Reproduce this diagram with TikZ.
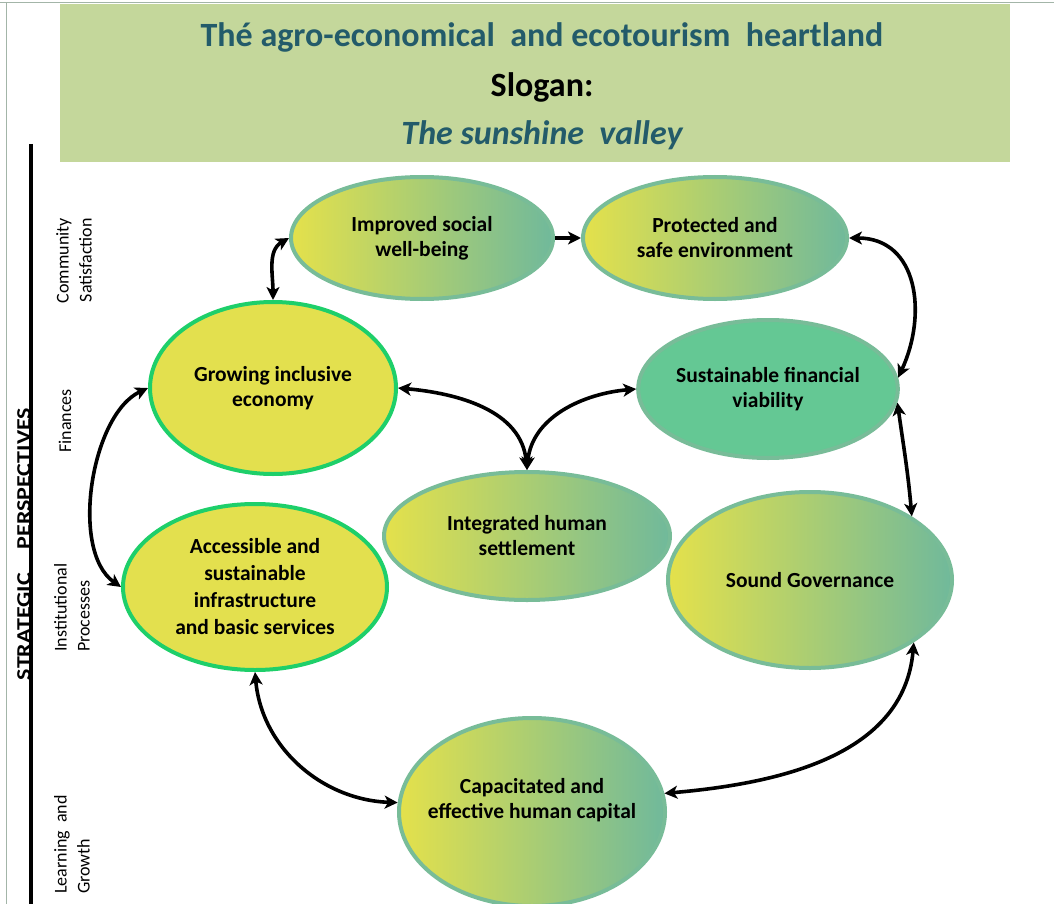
\documentclass[tikz,border=0pt]{standalone}
\usepackage{fontspec}
\setmainfont{Carlito}
\usetikzlibrary{shapes.geometric,arrows.meta}
\definecolor{bandgreen}{HTML}{C4D79B}
\definecolor{titleteal}{HTML}{235B6A}
\definecolor{gyel}{HTML}{E4E14B}
\definecolor{ggrn}{HTML}{70B99B}
\definecolor{gbord}{HTML}{78BC98}
\definecolor{brgreen}{HTML}{1ECF6A}
\definecolor{yelfill}{HTML}{E3E04E}
\definecolor{susfill}{HTML}{64C894}
\definecolor{pageline}{HTML}{A3B5A8}
\begin{document}
\begin{tikzpicture}[x=1pt,y=1pt,
  ell/.style={ellipse, inner sep=0pt, line width=4pt, align=center,
    font=\fontsize{21.5}{25}\selectfont\bfseries},
  grad/.style={ell, draw=gbord, left color=gyel, right color=ggrn},
  yel/.style={ell, draw=brgreen, fill=yelfill},
  susst/.style={ell, draw=gbord, fill=susfill},
  conn/.style={line width=3.6pt,
    {Stealth[length=13pt,width=13pt,inset=3.5pt]}-{Stealth[length=13pt,width=13pt,inset=3.5pt]}},
  oneway/.style={line width=3.6pt, -{Stealth[length=13pt,width=13pt,inset=3.5pt]}},
  persp/.style={rotate=90, inner sep=0pt, font=\fontsize{18}{23}\selectfont},
  bandtext/.style={inner sep=0pt, font=\fontsize{34}{40}\selectfont\bfseries}
]
\useasboundingbox (0,0) rectangle (1054,-904);
% page lines
\draw[pageline, line width=0.8pt] (0,-2.5) -- (1054,-2.5);
\draw[pageline, line width=0.8pt] (6,-2.5) -- (6,-904);
% band
\fill[bandgreen] (60,-4) rectangle (1010,-162);
\node[bandtext, text=titleteal] (title) at (542,-37) {Thé agro-economical\ \ and ecotourism\ \ heartland};
\node[bandtext, text=black] (slogan) at (542,-87) {Slogan:};
\node[bandtext, text=titleteal, font=\fontsize{34}{40}\selectfont\bfseries\itshape] (valley) at (542,-135) {The sunshine\ \ valley};
% left axis
\draw[line width=4.5pt] (31,-144) -- (31,-904);
\node[rotate=90, inner sep=0pt, font=\fontsize{20}{24}\selectfont\bfseries] (strat) at (25,-544)
  {\scalebox{1.2}[1]{\underline{STRATEGIC\hspace{20pt}PERSPECTIVES}}};
\node[persp, align=right, anchor=east] (ps1) at (74,-218) {Community\\Satisfaction};
\node[persp] (ps2) at (65,-421) {Finances};
\node[persp, align=left, anchor=west] (ps3) at (72,-652) {Institutional\\Processes};
\node[persp, align=left, anchor=west] (ps4) at (72,-894) {Learning\ \ and\\Growth};
% ellipses
\node[grad, minimum width=262pt, minimum height=122pt] (imp) at (422,-238) {Improved social\\well-being};
\node[grad, minimum width=264pt, minimum height=122pt] (prot) at (715,-238) {Protected and\\safe environment};
\node[yel, minimum width=246pt, minimum height=172pt] (grow) at (273,-388) {Growing inclusive\\economy};
\node[susst, minimum width=250pt, minimum height=138pt] (sust) at (768,-389) {Sustainable financial\\viability};
\node[grad, minimum width=286pt, minimum height=128pt] (integ) at (527,-536) {Integrated human\\settlement};
\node[yel, minimum width=264pt, minimum height=166pt, font=\fontsize{21.5}{27}\selectfont\bfseries] (acc) at (255,-587)
  {Accessible and\\sustainable\\infrastructure\\and basic services};
\node[grad, minimum width=284pt, minimum height=176pt] (gov) at (810,-580) {Sound Governance};
\node[grad, minimum width=266pt, minimum height=188pt] (cap) at (532,-812) {};
\node[inner sep=0pt, align=center, font=\fontsize{21.5}{25}\selectfont\bfseries] (captext) at (532,-800)
  {Capacitated and\\effective human capital};
% connectors
\draw[conn] (grow.north) to[out=90,in=210] (imp.west);
\draw[oneway] (imp.east) -- (prot.west);
\draw[conn] (prot.east) to[out=0,in=65,looseness=1.2] (sust.5);
\draw[conn] (grow.east) to[out=-5,in=95] (integ.north);
\draw[conn] (sust.west) to[out=185,in=85] (integ.north);
\draw[conn] (sust.-6) to[out=-82,in=95] (gov.32);
\draw[conn] (grow.west) to[out=205,in=145,looseness=0.8] (acc.west);
\draw[conn] (acc.south) to[out=-85,in=178] (cap.176);
\draw[conn] (gov.-31) to[out=-95,in=5] (cap.8);
\end{tikzpicture}
\end{document}
